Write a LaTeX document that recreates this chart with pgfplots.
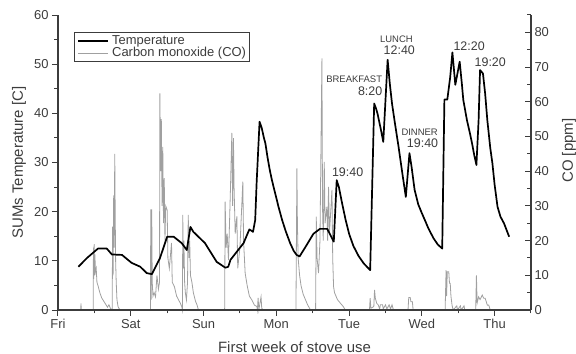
\documentclass[border=0pt]{standalone}
\usepackage{pgfplots}
\pgfplotsset{compat=1.18}
\usepackage{fontspec}
\setmainfont{Liberation Sans}
\definecolor{cogray}{RGB}{160,160,160}
\definecolor{axgray}{RGB}{60,60,60}
\begin{document}
\begin{tikzpicture}
\path[use as bounding box] (-58bp,-44bp) rectangle (518bp,310bp);
% ---------- CO axis (right) ----------
\begin{axis}[
  at={(0,0)}, anchor=south west,
  scale only axis, width=473bp, height=295bp,
  xmin=0, xmax=6.5, ymin=0, ymax=85,
  axis x line=none, axis y line*=right,
  axis line style={axgray, line width=1.1bp},
  ytick={0,10,...,80}, minor ytick={5,15,...,85},
  tick align=inside,
  major tick length=6bp, minor tick length=3.5bp,
  every tick/.style={axgray, line width=1bp},
  /pgf/number format/assume math mode=true,
  yticklabel style={font=\fontsize{13}{13}\selectfont, text=axgray},
  every axis y label/.style={at={(axis description cs:1,0.54)}, xshift=38bp, rotate=90, anchor=center},
  ylabel={CO [ppm]},
  ylabel style={font=\fontsize{15}{15}\selectfont, text=axgray},
  clip=false,
]
\addplot[cogray, line width=0.8bp] coordinates {
(0.30,0)(0.312,0)(0.316,1.9)(0.32,0)
(0.484,0)(0.487,18)(0.492,9)(0.497,19)(0.502,10)(0.507,16)(0.515,11)(0.525,12)(0.535,8)(0.55,7)(0.575,5)(0.60,3.5)(0.63,2.5)(0.66,1.5)(0.68,0.8)(0.70,1.5)(0.72,0.5)(0.74,0)
(0.745,0)(0.75,24)(0.757,10)(0.765,33)(0.772,18)(0.78,45)(0.786,28)(0.792,14)(0.80,8)(0.81,3)(0.825,1)(0.85,0)
(1.27,0)(1.275,29)(1.28,3)(1.288,29)(1.295,8)(1.305,4)(1.32,5)(1.34,3.8)(1.36,10)(1.38,6)(1.395,8)
(1.40,62.4)(1.41,40)(1.42,55)(1.43,30)(1.44,47)(1.45,25)(1.46,38)(1.47,20)(1.48,30)(1.50,28.8)(1.51,15)(1.53,12)(1.56,19.3)(1.57,8)(1.60,6.7)(1.63,4)(1.68,2)(1.70,1)(1.71,0)
(1.715,27.4)(1.72,12)(1.73,20)(1.74,8)(1.75,5)(1.765,2.9)(1.78,8)(1.79,27.4)(1.80,15)(1.81,20)(1.82,10)(1.84,8)(1.86,5)(1.89,2.5)(1.91,1.5)(1.93,0)
(2.29,0)(2.297,31.2)(2.31,18)(2.325,22)(2.343,14.4)(2.37,35)(2.389,51)(2.40,30)(2.411,49.5)(2.42,35)(2.435,22)(2.458,27)(2.47,12)(2.50,18)(2.54,37)(2.55,20)(2.572,10.6)(2.60,7)(2.63,4)(2.664,2.9)(2.70,1.4)(2.733,1)(2.74,0)(2.75,3.5)(2.76,0)(2.79,3.8)(2.80,0.5)(2.82,0)
(3.27,0)(3.283,40.8)(3.29,25)(3.30,15)(3.32,10)(3.34,7)(3.37,4.5)(3.40,3)(3.43,1.5)(3.47,0)
(3.54,0)(3.549,26.9)(3.56,15)(3.58,10.6)(3.60,20)(3.627,72.5)(3.635,30)(3.645,20)(3.659,42.7)(3.67,25)(3.696,29.8)(3.705,20)(3.718,35.5)(3.73,22)(3.765,34.6)(3.775,15)(3.787,6.7)(3.80,5)(3.84,3)(3.879,2)(3.92,1)(3.948,0)
(4.28,0)(4.29,3.4)(4.30,0.5)(4.34,1)(4.35,5.8)(4.36,3.5)(4.38,1.9)(4.40,1.5)(4.42,0.3)(4.43,1.5)(4.46,1.5)(4.47,0.3)(4.50,1.5)(4.52,0.3)(4.55,1.5)(4.57,0.3)(4.59,1.5)(4.61,0)
(4.81,0)(4.82,3.6)(4.84,3.6)(4.85,2.4)(4.87,2.4)(4.88,0)
(5.32,0)(5.333,11.5)(5.34,4)(5.35,11)(5.37,11)(5.38,7.7)(5.39,7.7)(5.40,4)(5.415,1.4)(5.43,0)(5.48,1.2)(5.49,0)(5.53,1.2)(5.54,0)(5.58,1.2)(5.59,0)
(5.74,0)(5.75,10)(5.76,2)(5.78,3.8)(5.80,3)(5.83,4.3)(5.85,3.4)(5.87,3.4)(5.90,1.4)(5.92,1.4)(5.94,0)(6.3,0)
};
\end{axis}
% ---------- Temperature axis (left) ----------
\begin{axis}[
  at={(0,0)}, anchor=south west,
  scale only axis, width=473bp, height=295bp,
  xmin=0, xmax=6.5, ymin=0, ymax=60,
  axis x line*=bottom, axis y line*=left,
  axis line style={axgray, line width=1.1bp, -},
  xtick={0,1,2,3,4,5,6},
  xticklabels={Fri,Sat,Sun,Mon,Tue,Wed,Thu},
  minor xtick={0.5,1.5,2.5,3.5,4.5,5.5,6.5},
  ytick={0,10,...,60}, minor ytick={5,15,...,55},
  tick align=outside,
  major tick length=6bp, minor tick length=3.5bp,
  every tick/.style={axgray, line width=1bp},
  /pgf/number format/assume math mode=true,
  ticklabel style={font=\fontsize{13}{13}\selectfont, text=axgray},
  every axis y label/.style={at={(axis description cs:0,0.5)}, xshift=-39bp, rotate=90, anchor=center},
  every axis x label/.style={at={(axis description cs:0.5,0)}, yshift=-37bp, anchor=center},
  ylabel={SUMs Temperature [C]},
  xlabel={First week of stove use},
  label style={font=\fontsize{15}{15}\selectfont, text=axgray},
  legend style={at={(axis description cs:0.034,0.942)}, anchor=north west,
    draw=axgray, line width=0.8bp, inner xsep=3bp, inner ysep=2.5bp,
    font=\fontsize{13}{13}\selectfont,
    nodes={inner sep=0pt, text height=9.5bp, text depth=2.5bp, text=axgray},
    column sep=3bp},
  legend cell align=left,
  legend image code/.code={\draw[#1] (0bp,0bp) -- (30bp,0bp);},
  clip=false,
]
\addplot[black, line width=1.7bp, line join=round] coordinates {
(0.28,8.8)(0.40,10.6)(0.55,12.5)(0.67,12.5)(0.74,11.3)(0.88,11.2)(1.01,9.6)(1.13,8.8)(1.22,7.5)(1.29,7.3)
(1.40,10.5)(1.50,14.9)(1.59,14.9)(1.70,13.6)(1.77,12.2)(1.82,16.9)(1.86,15.9)(2.02,13.6)(2.18,9.8)(2.30,8.6)
(2.34,8.8)(2.37,10.2)(2.46,11.9)(2.55,13.6)(2.63,16.4)(2.68,15.9)(2.71,18.3)(2.73,26)(2.77,38.3)
(2.80,37)(2.83,35)(2.85,33.9)(2.88,31)(2.91,28.5)(2.94,26.4)(2.98,24)(3.03,21)(3.08,18.3)(3.13,16)(3.19,13.6)(3.24,12)(3.28,11.2)
(3.32,10.9)(3.40,12.8)(3.51,15.5)(3.60,16.5)(3.70,16.5)
(3.765,14.6)(3.79,13.9)(3.83,26.4)(3.86,25)(3.90,22)(3.95,18.5)(4.00,15.5)(4.06,13)(4.13,11)(4.20,9.5)(4.29,8.1)
(4.345,42.0)(4.37,41)(4.39,40.0)(4.44,36.5)(4.47,34.2)(4.53,50.9)(4.56,46)(4.59,42.0)(4.63,38)(4.68,33.2)(4.73,28)(4.78,23.0)
(4.83,31.9)(4.86,29)(4.90,24.5)(4.95,21.5)(5.00,19.7)(5.05,18)(5.09,16.6)(5.16,14.6)(5.22,13.3)(5.28,12.5)
(5.31,42.8)(5.35,42.8)(5.39,47.4)(5.42,52.4)(5.46,45.8)(5.52,50.5)(5.55,46)(5.57,42.7)(5.62,38.6)(5.66,36)(5.69,33.9)(5.72,31.5)(5.75,29.5)
(5.78,38.6)(5.80,48.8)(5.84,48.1)(5.87,44)(5.90,38.6)(5.94,33)(5.97,29.8)(6.00,25.5)(6.04,21.0)(6.08,19)(6.13,17.6)(6.20,14.9)
};
\addlegendentry{Temperature}
\addlegendimage{cogray, line width=0.8bp}
\addlegendentry{Carbon monoxide (CO)}
% annotations
\node[font=\fontsize{9.5}{9.5}\selectfont, text=axgray] at (axis cs:4.07,46.9) {BREAKFAST};
\node[font=\fontsize{12.5}{12.5}\selectfont, text=axgray] at (axis cs:4.29,44.6) {8:20};
\node[font=\fontsize{9.5}{9.5}\selectfont, text=axgray] at (axis cs:4.65,55.1) {LUNCH};
\node[font=\fontsize{12.5}{12.5}\selectfont, text=axgray] at (axis cs:4.69,52.9) {12:40};
\node[font=\fontsize{9.5}{9.5}\selectfont, text=axgray] at (axis cs:4.97,36.1) {DINNER};
\node[font=\fontsize{12.5}{12.5}\selectfont, text=axgray] at (axis cs:5.01,34.0) {19:40};
\node[font=\fontsize{12.5}{12.5}\selectfont, text=axgray] at (axis cs:3.98,28.1) {19:40};
\node[font=\fontsize{12.5}{12.5}\selectfont, text=axgray] at (axis cs:5.65,53.6) {12:20};
\node[font=\fontsize{12.5}{12.5}\selectfont, text=axgray] at (axis cs:5.94,50.3) {19:20};
\end{axis}
\end{tikzpicture}
\end{document}
